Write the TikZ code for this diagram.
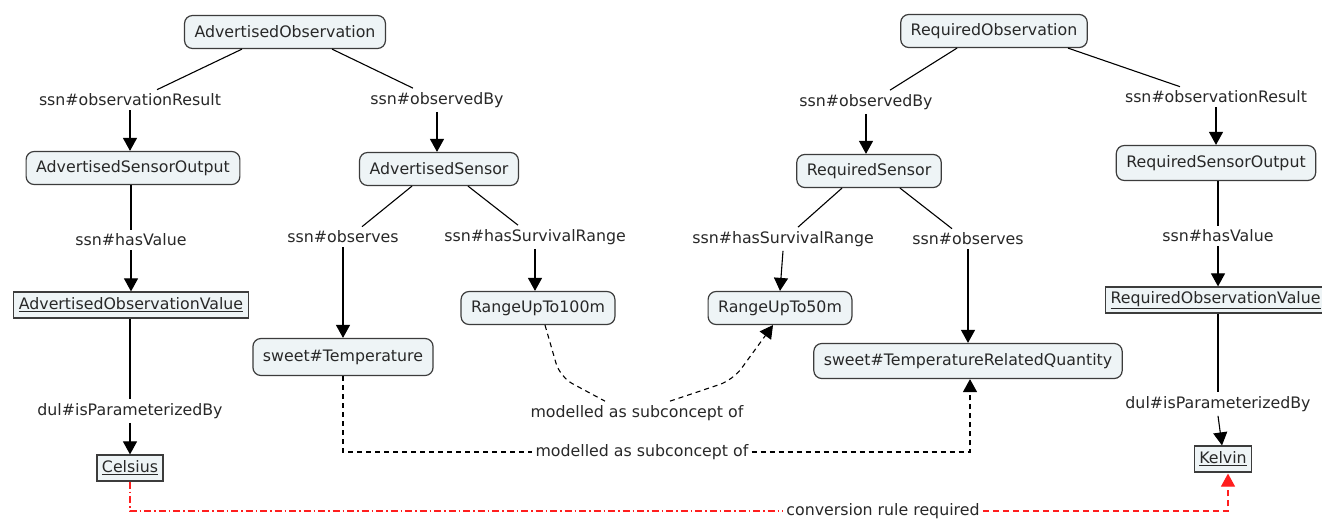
\documentclass[tikz,border=0pt]{standalone}
\usepackage{fontspec}
\setmainfont{DejaVu Sans}
\usetikzlibrary{arrows.meta}
\definecolor{nodefill}{RGB}{238,244,246}
\definecolor{nodeline}{RGB}{60,60,60}
\definecolor{txt}{RGB}{40,40,40}
\definecolor{redl}{RGB}{255,30,30}
\begin{document}
\begin{tikzpicture}[x=1pt,y=-1pt,
  every node/.style={font=\fontsize{15.8}{18}\selectfont, text=txt},
  concept/.style={draw=nodeline, fill=nodefill, line width=1.2pt, rounded corners=8pt, minimum height=33pt, inner xsep=10pt, inner ysep=4pt},
  valuebox/.style={draw=nodeline, fill=nodefill, line width=1.2pt, minimum height=26pt, inner xsep=5pt, inner ysep=3pt},
  lbl/.style={inner xsep=3pt, inner ysep=4pt},
  link/.style={draw=black, line width=1.1pt},
  arr/.style={link, -{Triangle[length=13pt,width=14pt]}},
  dsh/.style={draw=black, line width=1.1pt, dash pattern=on 5pt off 4pt},
  reddashdot/.style={draw=redl, line width=1.1pt, dash pattern=on 7pt off 3pt on 1.5pt off 3pt},
  reddash/.style={draw=redl, line width=1.1pt, dash pattern=on 6pt off 4pt},
]
\useasboundingbox (0,0) rectangle (1322,519);
\fill[white] (0,0) rectangle (1322,519);

% concepts
\node[concept] (AO) at (285,32) {AdvertisedObservation};
\node[concept] (ASO) at (133,168) {AdvertisedSensorOutput};
\node[concept] (AS) at (439,169) {AdvertisedSensor};
\node[valuebox] (AOV) at (131,305) {\underline{AdvertisedObservationValue}};
\node[concept] (R100) at (538,308) {RangeUpTo100m};
\node[concept] (R50) at (780,308) {RangeUpTo50m};
\node[concept, minimum height=37pt] (ST) at (343,357) {sweet\#Temperature};
\node[concept, minimum height=35pt] (TRQ) at (968,361) {sweet\#TemperatureRelatedQuantity};
\node[valuebox] (Cel) at (130,468) {\underline{Celsius}};
\node[concept] (RO) at (994,31) {RequiredObservation};
\node[concept] (RS) at (869,171) {RequiredSensor};
\node[concept, minimum height=35pt] (RSO) at (1216,163) {RequiredSensorOutput};
\node[valuebox, anchor=west] (ROV) at (1105,300) {\underline{RequiredObservationValue}};
\node[valuebox] (Kel) at (1223,459) {\underline{Kelvin}};

% labels
\node[lbl] (orL) at (130,100) {ssn\#observationResult};
\node[lbl] (obL) at (437,100) {ssn\#observedBy};
\node[lbl] (hvL) at (131,240) {ssn\#hasValue};
\node[lbl] (obsL) at (343,237) {ssn\#observes};
\node[lbl] (hsrL) at (535,237) {ssn\#hasSurvivalRange};
\node[lbl] (dulL) at (130,411) {dul\#isParameterizedBy};
\node[lbl] (m1) at (637,413) {modelled as subconcept of};
\node[lbl] (m2) at (642,452) {modelled as subconcept of};
\node[lbl] (obR) at (866,102) {ssn\#observedBy};
\node[lbl] (orR) at (1216,97) {ssn\#observationResult};
\node[lbl] (hsrR) at (783,239) {ssn\#hasSurvivalRange};
\node[lbl] (obsR) at (968,239) {ssn\#observes};
\node[lbl] (hvR) at (1218,236) {ssn\#hasValue};
\node[lbl] (dulR) at (1218,404) {dul\#isParameterizedBy};
\node[lbl] (conv) at (883,511) {conversion rule required};

% bend coordinates
\coordinate (b1) at (560,377);
\coordinate (b2) at (733,380);

% left tree
\draw[link] ([xshift=-43pt]AO.south) -- ([xshift=27pt]orL.north);
\draw[arr] (orL.south) -- (orL.south |- ASO.north);
\draw[link] ([xshift=47pt]AO.south) -- ([xshift=-24pt]obL.north);
\draw[arr] (obL.south) -- (obL.south |- AS.north);
\draw[link] (ASO.south -| hvL.north) -- (hvL.north);
\draw[arr] (hvL.south) -- (hvL.south |- AOV.north);
\draw[link] (AOV.south -| dulL.north) -- (dulL.north);
\draw[arr] (dulL.south) -- (dulL.south |- Cel.north);
\draw[link] ([xshift=-27pt]AS.south) -- ([xshift=19pt]obsL.north);
\draw[arr] (obsL.south) -- (obsL.south |- ST.north);
\draw[link] ([xshift=29pt]AS.south) -- ([xshift=-17pt]hsrL.north);
\draw[arr] (hsrL.south) -- (hsrL.south |- R100.north);

% right tree
\draw[link] ([xshift=-37pt]RO.south) -- ([xshift=24pt]obR.north);
\draw[arr] (obR.south) -- (obR.south |- RS.north);
\draw[link] ([xshift=74pt]RO.south) -- ([xshift=-36pt]orR.north);
\draw[arr] (orR.south) -- (orR.south |- RSO.north);
\draw[link] (RSO.south -| hvR.north) -- (hvR.north);
\draw[arr] (hvR.south) -- (hvR.south |- ROV.north);
\draw[link] (ROV.south -| dulR.north) -- (dulR.north);
\draw[arr] (dulR.south) -- ([xshift=4pt]dulR.south |- Kel.north);
\draw[link] ([xshift=-27pt]RS.south) -- ([xshift=15pt]hsrR.north);
\draw[arr] (hsrR.south) -- ([xshift=-3pt]hsrR.south |- R50.north);
\draw[link] ([xshift=31pt]RS.south) -- ([xshift=-16pt]obsR.north);
\draw[arr] (obsR.south) -- (obsR.south |- TRQ.north);

% dashed subconcept links
\draw[dsh, rounded corners=14pt] ([xshift=7pt]R100.south) -- (b1) -- ([xshift=-32pt]m1.north);
\draw[dsh, rounded corners=14pt, -{Triangle[length=13pt,width=14pt]}] ([xshift=33pt]m1.north) -- (b2) -- ([xshift=-7pt]R50.south);
\draw[dsh] (ST.south) |- (m2.west);
\draw[dsh, -{Triangle[length=13pt,width=14pt]}] (m2.east) -| ([xshift=2pt]TRQ.south);

% conversion rule
\draw[reddashdot] (Cel.south) |- (conv.west);
\draw[reddash, -{Triangle[length=13pt,width=14pt]}, shorten >=1pt] (conv.east) -| ([xshift=5pt]Kel.south);
\end{tikzpicture}
\end{document}
